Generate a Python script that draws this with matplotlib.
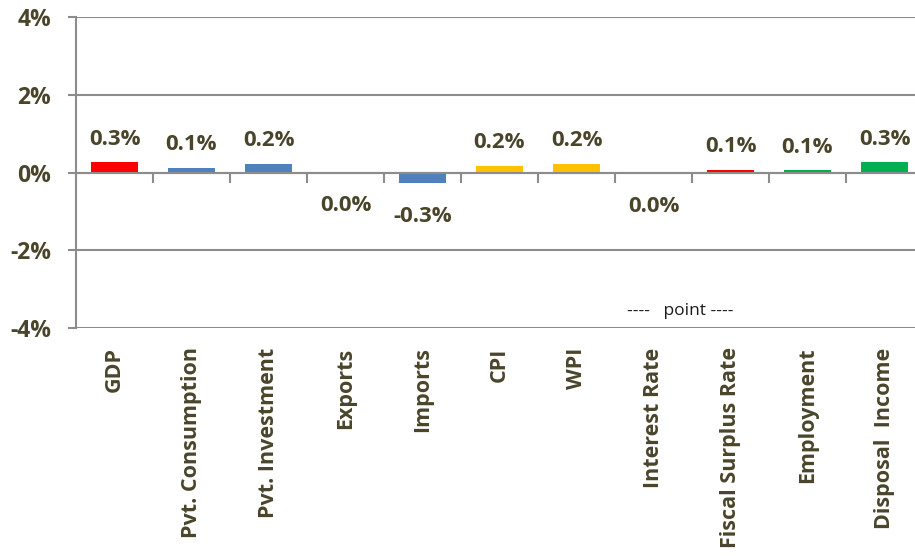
import matplotlib
matplotlib.use("Agg")
import matplotlib.pyplot as plt
import numpy as np

categories = ["GDP", "Pvt. Consumption", "Pvt. Investment", "Exports", "Imports",
              "CPI", "WPI", "Interest Rate", "Fiscal Surplus Rate", "Employment",
              "Disposal  Income"]
values = [0.27, 0.12, 0.22, -0.01, -0.28, 0.17, 0.22, -0.04, 0.07, 0.06, 0.27]
colors = ["#FF0000", "#4F81BD", "#4F81BD", "#4F81BD", "#4F81BD",
          "#FFC000", "#FFC000", "#7030A0", "#FF0000", "#00B050", "#00B050"]
yticks = [-4, -2, 0, 2, 4]
note_text = "----   point ----"

txt_color = "#4A452A"
grid_color = "#8C8C8C"
plt.rcParams['font.family'] = ['Open Sans', 'DejaVu Sans']

W, H = 915, 556
fig = plt.figure(figsize=(W / 100, H / 100), dpi=100)
left, right, top, bottom = 76, 923, 17, 328
ax = fig.add_axes([left / W, 1 - bottom / H, (right - left) / W, (bottom - top) / H])

x = np.arange(len(categories))
bars = ax.bar(x, values, width=0.62, color=colors, zorder=3)

ax.set_xlim(-0.5, len(categories) - 0.5)
ax.set_ylim(-4, 4)
ax.set_yticks(yticks)
ax.set_yticklabels([f"{v}%" for v in yticks], fontsize=16.5, fontweight="bold", color=txt_color)
ax.tick_params(axis="y", length=6, width=1.5, color=grid_color, pad=12)
ax.yaxis.grid(True, color=grid_color, linewidth=1.5, zorder=0)

ax.set_xticks(x)
ax.set_xticklabels(categories, rotation=90, fontsize=15.5, fontweight="bold", color=txt_color)
ax.tick_params(axis="x", length=0, pad=14)

for s in ["top", "right", "bottom"]:
    ax.spines[s].set_visible(False)
ax.spines["left"].set_color(grid_color)
ax.spines["left"].set_linewidth(1.5)

# category axis at zero with tick marks between categories
ax.axhline(0, color=grid_color, linewidth=1.5, zorder=4)
bounds = np.arange(len(categories) + 1) - 0.5
ax.plot(bounds, np.zeros_like(bounds), linestyle="none", marker=3, markersize=7,
        markeredgewidth=1.5, color=grid_color, zorder=4, clip_on=False)

for xi, v in zip(x, values):
    if v >= 0:
        ax.annotate(f"{v:.1f}%", (xi, v), xytext=(0, 9), textcoords="offset points",
                    ha="center", va="bottom", fontsize=16, fontweight="bold", color=txt_color)
    else:
        ax.annotate(f"{abs(v):.1f}%" if round(v, 1) == 0 else f"{v:.1f}%", (xi, v),
                    xytext=(0, -16), textcoords="offset points",
                    ha="center", va="top", fontsize=16, fontweight="bold", color=txt_color)

ax.text(7.35, -3.57, note_text, ha="center", va="center", fontsize=12.5, color="#1a1a1a")

fig.savefig("out.png", dpi=100)
